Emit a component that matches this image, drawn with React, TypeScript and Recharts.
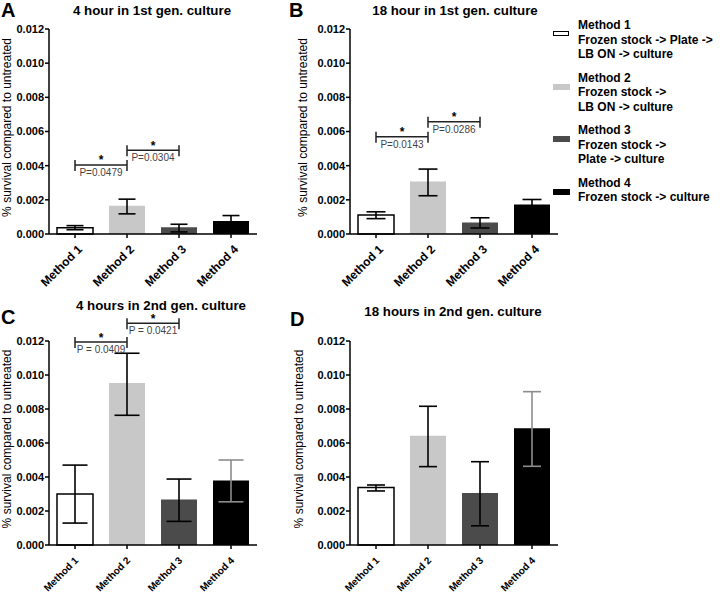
import React from 'react';
import { BarChart, Bar, Cell, XAxis, YAxis, ErrorBar, ReferenceLine } from 'recharts';

const methods = ['Method 1', 'Method 2', 'Method 3', 'Method 4'];
const methodRoutes = [
  ['Frozen stock -> Plate ->', 'LB ON -> culture'],
  ['Frozen stock ->', 'LB ON -> culture'],
  ['Frozen stock ->', 'Plate -> culture'],
  ['Frozen stock -> culture'],
];
const fills = ['#ffffff', '#c8c8c8', '#4b4b4b', '#000000'];
const yTicks = [0, 0.002, 0.004, 0.006, 0.008, 0.01, 0.012];

// A: 4 hour in 1st gen. culture
const meanA = [0.00037, 0.00165, 0.00039, 0.00076];
const lowA = [0.00025, 0.00118, 0.00012, 0.00044];
const highA = [0.00049, 0.00204, 0.00057, 0.00108];
const bracketsA = [
  { from: 'Method 1', to: 'Method 2', y: 0.00404, p: 'P=0.0479' },
  { from: 'Method 2', to: 'Method 3', y: 0.0049, p: 'P=0.0304' },
];

// B: 18 hour in 1st gen. culture
const meanB = [0.00111, 0.00308, 0.00068, 0.00173];
const lowB = [0.0009, 0.00224, 0.00035, 0.00144];
const highB = [0.0013, 0.0038, 0.00095, 0.00202];
const bracketsB = [
  { from: 'Method 1', to: 'Method 2', y: 0.00569, p: 'P=0.0143' },
  { from: 'Method 2', to: 'Method 3', y: 0.00657, p: 'P=0.0286' },
];

// C: 4 hours in 2nd gen. culture
const meanC = [0.003, 0.00953, 0.00268, 0.0038];
const lowC = [0.00129, 0.00763, 0.00139, 0.00254];
const highC = [0.0047, 0.01128, 0.00388, 0.005];
const bracketsC = [
  { from: 'Method 1', to: 'Method 2', y: 0.01194, p: 'P = 0.0409' },
  { from: 'Method 2', to: 'Method 3', y: 0.01304, p: 'P = 0.0421' },
];

// D: 18 hours in 2nd gen. culture
const meanD = [0.00338, 0.00642, 0.00306, 0.00687];
const lowD = [0.00318, 0.00461, 0.00113, 0.00463];
const highD = [0.00353, 0.00816, 0.0049, 0.00902];

const FONT = "'Liberation Sans', Arial, sans-serif";

type Bracket = { from: string; to: string; y: number; p: string };

const bracketShape = (label: string) => (props: any) => {
  const { x1, y1, x2 } = props;
  const y = y1;
  const mid = (x1 + x2) / 2;
  return (
    <g>
      <path
        d={`M${x1},${y - 5}V${y + 6}M${x1},${y}H${x2}M${x2},${y - 5}V${y + 6}`}
        stroke="#222"
        strokeWidth={1.5}
        fill="none"
      />
      <text x={mid} y={y - 0.5} textAnchor="middle" fontSize={12} fontWeight="bold" fill="#000">*</text>
      <text x={mid} y={y + 11} textAnchor="middle" fontSize={10} fill="#444">{label}</text>
    </g>
  );
};

function XTick({ x, y, payload, fontSize }: any) {
  const ax = x + (fontSize > 11 ? 8 : 4);
  const ay = y + 10;
  return (
    <text
      x={ax}
      y={ay}
      transform={`rotate(-45, ${ax}, ${ay})`}
      textAnchor="end"
      fontSize={fontSize}
      fontWeight="bold"
      fill="#000"
    >
      {payload.value}
    </text>
  );
}

interface PanelProps {
  letter: string;
  title: string;
  left: number;
  top: number;
  height: number;
  yAxisWidth: number;
  marginTop: number;
  xAxisHeight: number;
  titleCenter: number;
  titleTop: number;
  letterLeft: number;
  letterTop: number;
  labelX: number;
  tickFont: number;
  capWidth: number;
  mean: number[];
  low: number[];
  high: number[];
  grayLast?: boolean;
  brackets?: Bracket[];
}

function Panel(p: PanelProps) {
  const width = 257 - 49 + p.yAxisWidth + 5;
  const data = methods.map((m, i) => {
    const err = [p.mean[i] - p.low[i], p.high[i] - p.mean[i]];
    const gray = p.grayLast && i === 3;
    return {
      name: m,
      value: p.mean[i],
      errDark: gray ? undefined : err,
      errGray: gray ? err : undefined,
    };
  });

  return (
    <>
      <div
        style={{
          position: 'absolute',
          left: p.letterLeft,
          top: p.letterTop,
          fontSize: 20,
          fontWeight: 'bold',
          lineHeight: '21px',
        }}
      >
        {p.letter}
      </div>
      <div
        style={{
          position: 'absolute',
          left: p.titleCenter - 150,
          top: p.titleTop,
          width: 300,
          textAlign: 'center',
          fontSize: 13.3,
          fontWeight: 'bold',
          lineHeight: '15px',
        }}
      >
        {p.title}
      </div>
      <div style={{ position: 'absolute', left: p.left, top: p.top }}>
        <BarChart
          width={width}
          height={p.height}
          data={data}
          margin={{ top: p.marginTop, right: 5, left: 0, bottom: 3 }}
          barSize={36}
        >
          <XAxis
            dataKey="name"
            interval={0}
            height={p.xAxisHeight}
            axisLine={{ stroke: '#000', strokeWidth: 1.5 }}
            tickLine={{ stroke: '#000', strokeWidth: 1.5 }}
            tickSize={4}
            tick={<XTick fontSize={p.tickFont} />}
          />
          <YAxis
            width={p.yAxisWidth}
            domain={[0, 0.012]}
            ticks={yTicks}
            interval={0}
            tickFormatter={(v: number) => v.toFixed(3)}
            axisLine={{ stroke: '#000', strokeWidth: 1.5 }}
            tickLine={{ stroke: '#000', strokeWidth: 1.5 }}
            tickSize={4}
            tickMargin={1}
            tick={{ fontSize: 11, fontWeight: 'bold', fill: '#000' }}
            label={{
              content: (lp: any) => {
                const vb = lp.viewBox || {};
                const cx = p.labelX;
                const cy = vb.y + vb.height / 2 - 4;
                return (
                  <text
                    x={cx}
                    y={cy}
                    transform={`rotate(-90, ${cx}, ${cy})`}
                    textAnchor="middle"
                    dominantBaseline="central"
                    fontSize={12}
                    fill="#000"
                  >
                    % survival compared to untreated
                  </text>
                );
              },
            }}
          />
          <Bar dataKey="value" isAnimationActive={false}>
            {data.map((d, i) => (
              <Cell key={d.name} fill={fills[i]} stroke={i === 0 ? '#000' : 'none'} strokeWidth={1.5} />
            ))}
            <ErrorBar dataKey="errDark" direction="y" width={p.capWidth} stroke="#000" strokeWidth={1.6} isAnimationActive={false} />
            <ErrorBar dataKey="errGray" direction="y" width={p.capWidth} stroke="#8c8c8c" strokeWidth={1.6} isAnimationActive={false} />
          </Bar>
          {(p.brackets || []).map((b) => (
            <ReferenceLine
              key={b.p}
              segment={[
                { x: b.from, y: b.y },
                { x: b.to, y: b.y },
              ]}
              ifOverflow="visible"
              shape={bracketShape(b.p)}
            />
          ))}
        </BarChart>
      </div>
    </>
  );
}

function Legend() {
  return (
    <div style={{ position: 'absolute', left: 553, top: 18, fontSize: 12, fontWeight: 'bold', lineHeight: '14.5px' }}>
      {methods.map((m, i) => (
        <div key={m} style={{ position: 'relative', paddingLeft: 25, marginBottom: 9 }}>
          <div
            style={{
              position: 'absolute',
              left: 0,
              top: 13,
              width: i === 0 ? 14 : 17,
              height: i === 0 ? 3 : 6,
              background: fills[i],
              border: i === 0 ? '1.5px solid #000' : 'none',
            }}
          />
          <div>{m}</div>
          {methodRoutes[i].map((r) => (
            <div key={r} style={{ whiteSpace: 'nowrap' }}>{r}</div>
          ))}
        </div>
      ))}
    </div>
  );
}

export default function App() {
  return (
    <div
      style={{
        position: 'absolute',
        left: 0,
        top: 0,
        width: 720,
        height: 598,
        background: '#fff',
        fontFamily: FONT,
        color: '#000',
        overflow: 'hidden',
      }}
    >
      <Panel
        letter="A"
        title="4 hour in 1st gen. culture"
        left={0}
        top={0}
        height={300}
        yAxisWidth={49}
        marginTop={29}
        xAxisHeight={63}
        titleCenter={152}
        titleTop={3}
        letterLeft={1}
        letterTop={0}
        labelX={7}
        tickFont={12}
        capWidth={8.5}
        mean={meanA}
        low={lowA}
        high={highA}
        brackets={bracketsA}
      />
      <Panel
        letter="B"
        title="18 hour in 1st gen. culture"
        left={290}
        top={0}
        height={300}
        yAxisWidth={60}
        marginTop={29}
        xAxisHeight={63}
        titleCenter={455}
        titleTop={3}
        letterLeft={289}
        letterTop={0}
        labelX={13}
        tickFont={12}
        capWidth={9.5}
        mean={meanB}
        low={lowB}
        high={highB}
        brackets={bracketsB}
      />
      <Panel
        letter="C"
        title="4 hours in 2nd gen. culture"
        left={0}
        top={300}
        height={298}
        yAxisWidth={49}
        marginTop={41}
        xAxisHeight={50}
        titleCenter={161}
        titleTop={298}
        letterLeft={1}
        letterTop={307}
        labelX={7}
        tickFont={10}
        capWidth={12.5}
        mean={meanC}
        low={lowC}
        high={highC}
        grayLast
        brackets={bracketsC}
      />
      <Panel
        letter="D"
        title="18 hours in 2nd gen. culture"
        left={290}
        top={300}
        height={298}
        yAxisWidth={60}
        marginTop={41}
        xAxisHeight={50}
        titleCenter={453}
        titleTop={304}
        letterLeft={290}
        letterTop={309}
        labelX={9}
        tickFont={10}
        capWidth={9}
        mean={meanD}
        low={lowD}
        high={highD}
        grayLast
      />
      <Legend />
    </div>
  );
}
